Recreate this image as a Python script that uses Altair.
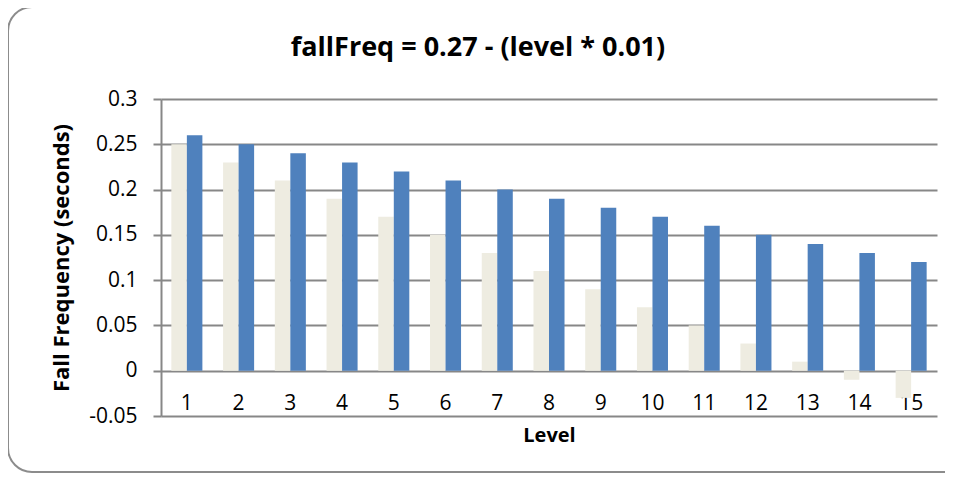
import altair as alt
import pandas as pd

levels = list(range(1, 16))
series_a = [0.25, 0.23, 0.21, 0.19, 0.17, 0.15, 0.13, 0.11, 0.09, 0.07, 0.05, 0.03, 0.01, -0.01, -0.03]
series_b = [0.26, 0.25, 0.24, 0.23, 0.22, 0.21, 0.20, 0.19, 0.18, 0.17, 0.16, 0.15, 0.14, 0.13, 0.12]
series_names = ["A", "B"]
series_colors = ["#EEECE1", "#4F81BD"]
y_ticks = [-0.05, 0, 0.05, 0.1, 0.15, 0.2, 0.25, 0.3]
chart_title = "fallFreq = 0.27 - (level * 0.01)"

rows = []
for lv, a, b in zip(levels, series_a, series_b):
    rows.append({"level": lv, "series": "A", "value": a})
    rows.append({"level": lv, "series": "B", "value": b})
df = pd.DataFrame(rows)

FONT = "Open Sans"
W, H = 776, 317

bars = alt.Chart(df).mark_bar().encode(
    x=alt.X("level:O", title="Level",
            scale=alt.Scale(paddingInner=0.4, paddingOuter=0.2),
            axis=alt.Axis(labelAngle=0, domain=False, ticks=False, labelPadding=-24,
                          labelFont=FONT, labelFontSize=21, labelColor="#000000",
                          titleFont=FONT, titleFontSize=20, titleFontWeight="bold",
                          titleColor="#000000", titlePadding=9)),
    xOffset=alt.XOffset("series:N", scale=alt.Scale(paddingInner=0, paddingOuter=0)),
    y=alt.Y("value:Q", title="Fall Frequency (seconds)",
            scale=alt.Scale(domain=[-0.05, 0.3], nice=False, zero=False),
            axis=alt.Axis(values=y_ticks,
                          labelExpr="replace(format(datum.value, '.2~f'), '\u2212', '-')",
                          grid=True, gridColor="#878787", gridWidth=2,
                          domainColor="#878787", domainWidth=2,
                          tickColor="#878787", tickWidth=2, tickSize=8,
                          labelPadding=16, labelFont=FONT, labelFontSize=21,
                          labelColor="#000000",
                          titleFont=FONT, titleFontSize=22, titleFontWeight="bold",
                          titleColor="#000000", titlePadding=15)),
    color=alt.Color("series:N", legend=None,
                    scale=alt.Scale(domain=series_names, range=series_colors)),
)

one = pd.DataFrame({"t": [chart_title]})

border = alt.Chart(one).mark_rect(
    fill=None, stroke="#8C8C8C", strokeWidth=2, cornerRadius=24
).encode(x=alt.value(-153), x2=alt.value(812), y=alt.value(-92), y2=alt.value(373))

title = alt.Chart(one).mark_text(
    font=FONT, fontSize=27, fontWeight="bold", color="#000000",
    align="center", baseline="middle"
).encode(x=alt.value(317), y=alt.value(-51), text="t:N")

chart = alt.layer(border, bars, title).properties(
    width=W, height=H,
    autosize=alt.AutoSizeParams(type="none"),
    padding={"left": 153, "top": 91, "right": 8, "bottom": 59},
).configure_view(stroke=None)

chart.save("out.html", embed_options={"renderer": "svg", "actions": False})
